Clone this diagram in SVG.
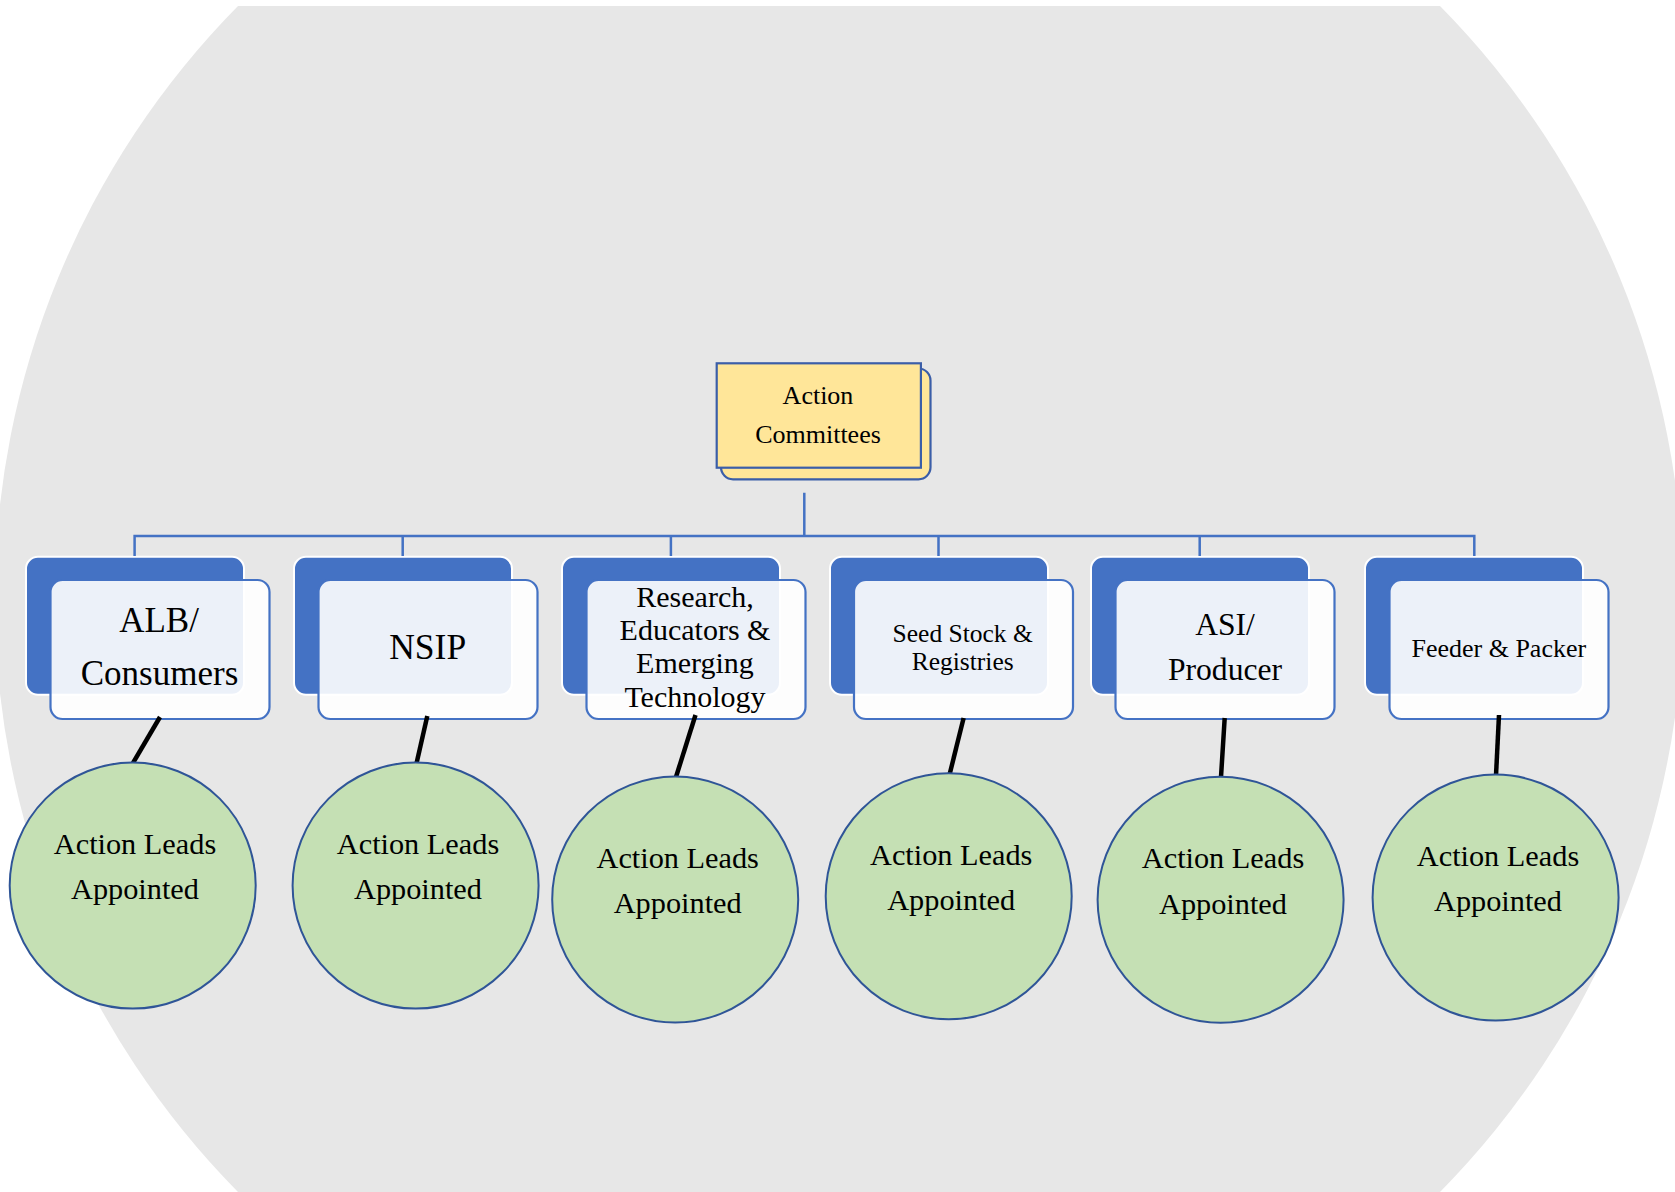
<svg xmlns="http://www.w3.org/2000/svg" width="1675" height="1192" viewBox="0 0 1675 1192">
<style>
.bg{fill:#e7e7e7}
.rootr{fill:#ffe699;stroke:#3b5ea8;stroke-width:2.2}
.dark{fill:#4472c4;stroke:#ffffff;stroke-width:2}
.front{fill:#ffffff;fill-opacity:0.9;stroke:#4472c4;stroke-width:2.2}
.circ{fill:#c5e0b4;stroke:#2f5597;stroke-width:2}
.tree{fill:none;stroke:#4472c4;stroke-width:2.5}
.blk{stroke:#000000;stroke-width:4.5;stroke-linecap:butt}
text{font-family:"Liberation Serif","Times New Roman",serif;fill:#000000;text-anchor:middle}
.t26{font-size:26px}
.t25{font-size:25.5px}
.t30{font-size:30px}
.t31{font-size:30.3px}
.t32{font-size:31.6px}
.t35{font-size:35px}
.t36{font-size:35.5px}
</style>
<path class="bg" d="M238,6 L1440,6 A844.3,844.3 0 0 1 1440,1192 L238,1192 A844.3,844.3 0 0 1 238,6 Z"/>

<g id="root">
<rect class="rootr" x="721" y="368.5" width="209.5" height="110.8" rx="12"/>
<rect class="rootr" x="716.7" y="363.3" width="204.2" height="104.4"/>
<text class="t26" x="818" y="404">Action</text>
<text class="t26" x="818" y="443">Committees</text>
</g>

<g id="n-alb">
<rect class="dark" x="26" y="556.7" width="218" height="138" rx="12"/>
<rect class="front" x="50.5" y="580" width="219" height="139" rx="12"/>
<text class="t35" x="159" y="632">ALB/</text>
<text class="t35" x="159.5" y="684.5">Consumers</text>
</g>
<g id="n-nsip">
<rect class="dark" x="294" y="556.7" width="218" height="138" rx="12"/>
<rect class="front" x="318.5" y="580" width="219" height="139" rx="12"/>
<text class="t36" x="427.7" y="658.5">NSIP</text>
</g>
<g id="n-research">
<rect class="dark" x="562" y="556.7" width="218" height="138" rx="12"/>
<rect class="front" x="586.5" y="580" width="219" height="139" rx="12"/>
<text class="t30" x="695" y="606.7">Research,</text>
<text class="t30" x="695" y="640">Educators &amp;</text>
<text class="t30" x="695" y="673.3">Emerging</text>
<text class="t30" x="695" y="706.7">Technology</text>
</g>
<g id="n-seed">
<rect class="dark" x="830" y="556.7" width="218" height="138" rx="12"/>
<rect class="front" x="854" y="580" width="219" height="139" rx="12"/>
<text class="t25" x="962.7" y="641.7">Seed Stock &amp;</text>
<text class="t25" x="962.7" y="670">Registries</text>
</g>
<g id="n-asi">
<rect class="dark" x="1091" y="556.7" width="218" height="138" rx="12"/>
<rect class="front" x="1115.5" y="580" width="219" height="139" rx="12"/>
<text class="t32" x="1225" y="635">ASI/</text>
<text class="t32" x="1225" y="680">Producer</text>
</g>
<g id="n-feeder">
<rect class="dark" x="1365" y="556.7" width="218" height="138" rx="12"/>
<rect class="front" x="1389.5" y="580" width="219" height="139" rx="12"/>
<text class="t26" x="1498.8" y="656.7">Feeder &amp; Packer</text>
</g>

<g id="connectors">
<path class="tree" d="M804.3,492.7 V536 M134.6,556 V536 H1474.3 V556 M402.7,536 V556 M670.9,536 V556 M938.5,536 V556 M1199.7,536 V556"/>
<line class="blk" x1="160" y1="717" x2="133" y2="763"/>
<line class="blk" x1="427.3" y1="716" x2="416.6" y2="763"/>
<line class="blk" x1="695.5" y1="715" x2="676" y2="777"/>
<line class="blk" x1="963.6" y1="718" x2="949.7" y2="774"/>
<line class="blk" x1="1224.7" y1="718" x2="1221" y2="777.5"/>
<line class="blk" x1="1499" y1="715" x2="1496" y2="775.5"/>
</g>

<g id="c-alb">
<circle class="circ" cx="132.7" cy="885.6" r="123"/>
<text class="t31" x="135" y="854.1">Action Leads</text>
<text class="t31" x="135" y="899.4">Appointed</text>
</g>
<g id="c-nsip">
<circle class="circ" cx="415.6" cy="885.6" r="123"/>
<text class="t31" x="418" y="854.1">Action Leads</text>
<text class="t31" x="418" y="899.4">Appointed</text>
</g>
<g id="c-research">
<circle class="circ" cx="675.2" cy="899.5" r="123"/>
<text class="t31" x="677.7" y="868">Action Leads</text>
<text class="t31" x="677.7" y="913.3">Appointed</text>
</g>
<g id="c-seed">
<circle class="circ" cx="948.7" cy="896.3" r="123"/>
<text class="t31" x="951.2" y="864.8">Action Leads</text>
<text class="t31" x="951.2" y="910.1">Appointed</text>
</g>
<g id="c-asi">
<circle class="circ" cx="1220.6" cy="899.8" r="123"/>
<text class="t31" x="1223" y="868.3">Action Leads</text>
<text class="t31" x="1223" y="913.6">Appointed</text>
</g>
<g id="c-feeder">
<circle class="circ" cx="1495.6" cy="897.6" r="123"/>
<text class="t31" x="1498" y="866.1">Action Leads</text>
<text class="t31" x="1498" y="911.4">Appointed</text>
</g>
</svg>
